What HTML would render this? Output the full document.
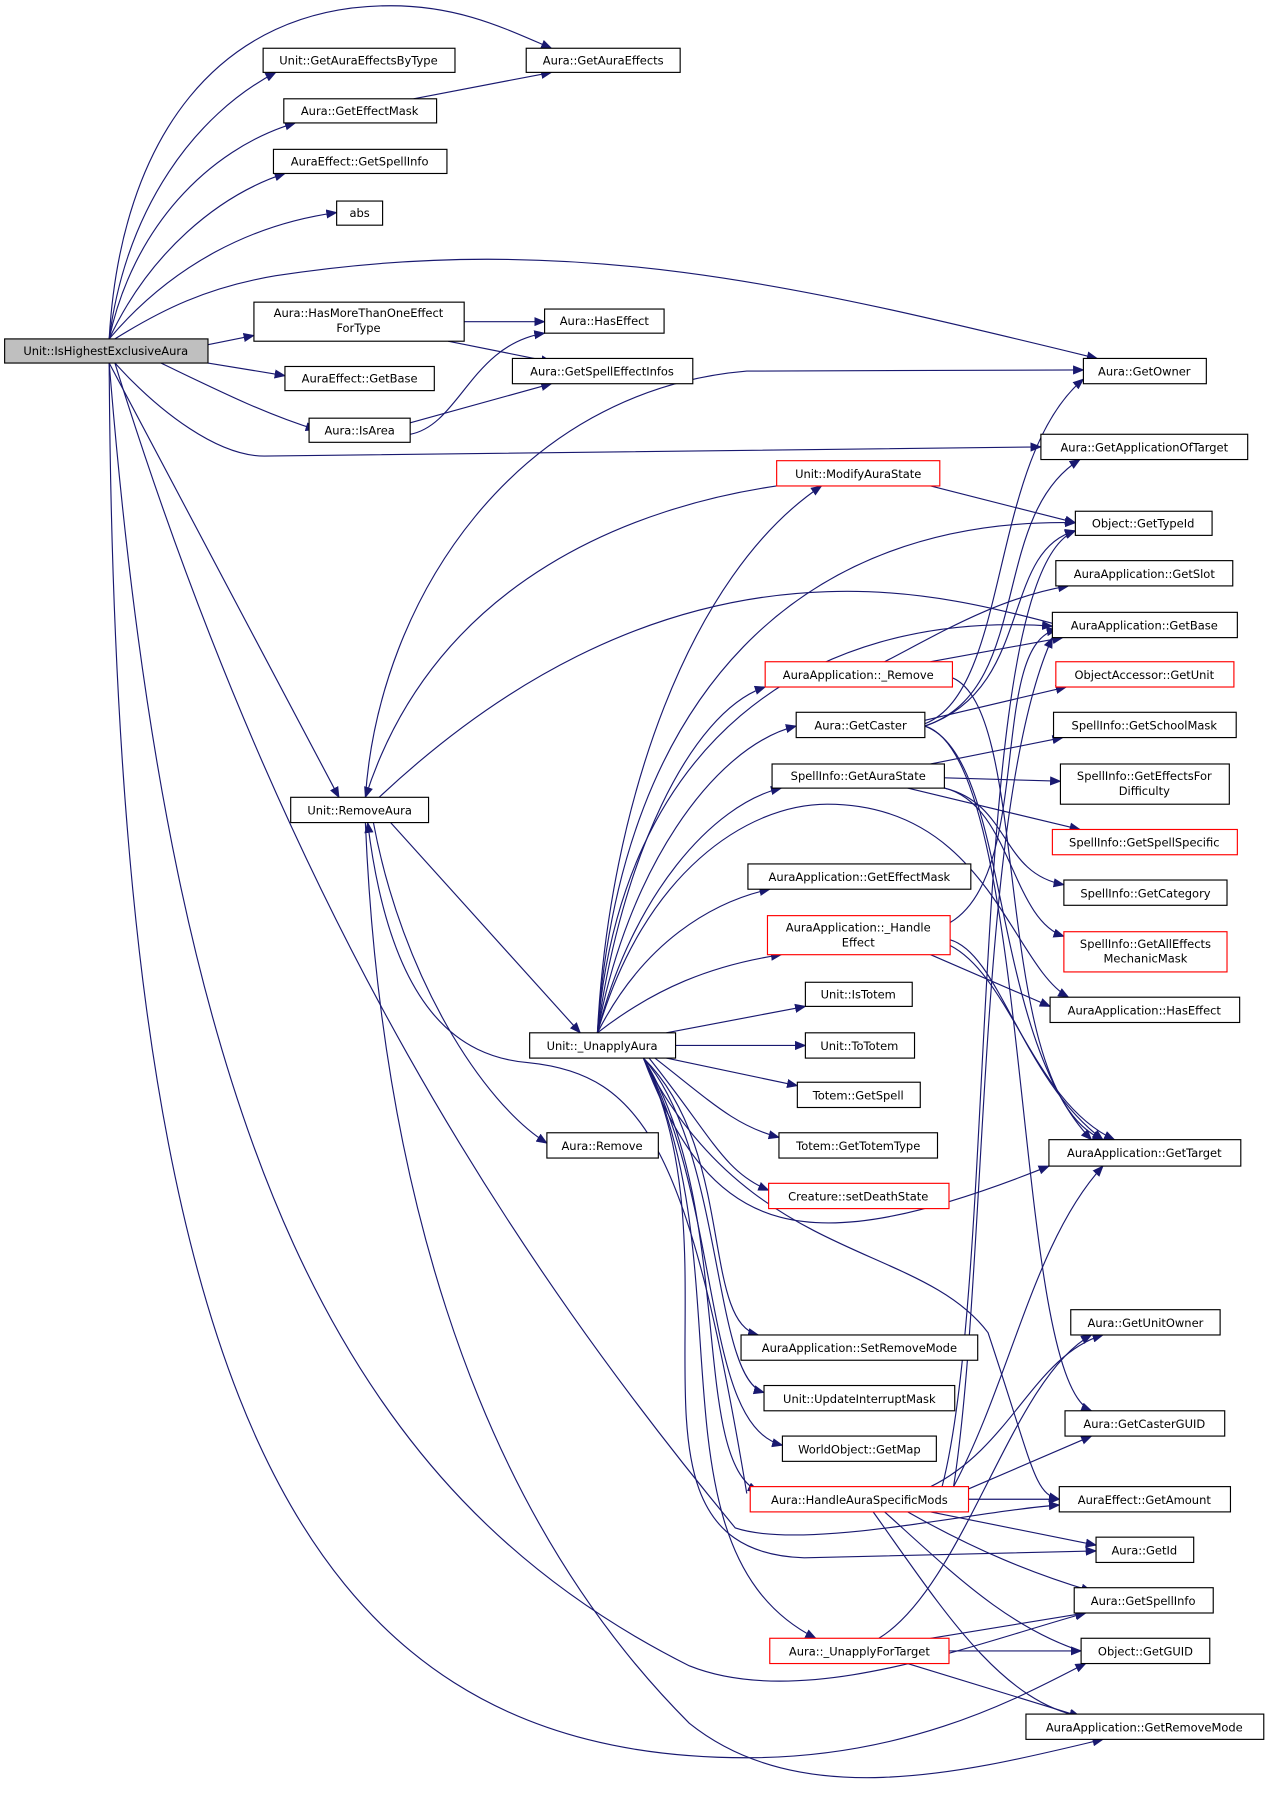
<!DOCTYPE html>
<html><head><meta charset="utf-8"><style>
html,body{margin:0;padding:0;background:#fff;}
svg{display:block;}
text{font-family:"DejaVu Sans","Liberation Sans",sans-serif;font-size:10px;fill:#000;text-anchor:middle;}
.n{fill:#fff;stroke:#000;stroke-width:1;}
.r{fill:#fff;stroke:#ff0000;stroke-width:1;}
.e{fill:none;stroke:#191970;stroke-width:1;marker-end:url(#a);}
</style></head><body>
<svg width="1273" height="1806" viewBox="0 0 1108 1572" xmlns="http://www.w3.org/2000/svg">
<defs><marker id="a" markerWidth="10" markerHeight="8" refX="9" refY="4" orient="auto" markerUnits="userSpaceOnUse"><polygon points="0,0 10,4 0,8" fill="#191970"/></marker></defs>
<g>
<path class="e" d="M95,295 C105,120 190,5 340,5 C400,5 440,25 480,42"/>
<path class="e" d="M95,295 C110,180 170,100 240,63"/>
<path class="e" d="M95,295 C115,200 180,130 257,107"/>
<path class="e" d="M95,295 C130,220 190,170 248,151"/>
<path class="e" d="M95,295 C150,230 220,195 293,185"/>
<path class="e" d="M100,295 C140,270 180,250 240,240 C500,200 700,250 955,312"/>
<path class="e" d="M181,300 L221,292"/>
<path class="e" d="M181,316 L248,327"/>
<path class="e" d="M140,316 C190,340 230,360 275,374"/>
<path class="e" d="M100,316 C140,360 190,397 230,397 L906,389"/>
<path class="e" d="M95,316 L295,694"/>
<path class="e" d="M100,316 C250,800 450,1100 640,1330 C700,1350 850,1315 922,1310"/>
<path class="e" d="M95,316 C150,1000 300,1300 600,1450 C700,1490 850,1430 945,1404"/>
<path class="e" d="M95,316 C100,1200 250,1530 650,1530 C800,1530 900,1470 945,1448"/>
<path class="e" d="M404,280 L474,280"/>
<path class="e" d="M390,297 L480,315"/>
<path class="e" d="M360,86 L480,63"/>
<path class="e" d="M357,368 L480,334"/>
<path class="e" d="M357,378 C400,370 410,300 474,290"/>
<path class="e" d="M318,694 C330,520 450,340 650,323 L943,322"/>
<path class="e" d="M676,423 C560,440 380,500 318,694"/>
<path class="e" d="M330,694 C430,600 560,520 720,515 C800,512 870,530 925,545"/>
<path class="e" d="M340,716 L505,899"/>
<path class="e" d="M325,716 C350,850 420,960 476,995"/>
<path class="e" d="M318,716 C330,1000 400,1300 600,1500 C700,1580 850,1540 960,1514"/>
<path class="e" d="M650,1300 C600,1000 560,935 460,925 C400,920 340,880 320,716"/>
<path class="e" d="M520,899 C530,700 600,500 715,423"/>
<path class="e" d="M520,899 C540,600 700,450 936,455"/>
<path class="e" d="M520,899 C540,650 700,530 916,545"/>
<path class="e" d="M520,899 C540,750 600,620 666,598"/>
<path class="e" d="M520,899 C545,760 620,650 693,632"/>
<path class="e" d="M520,899 C550,780 620,700 680,686"/>
<path class="e" d="M520,899 C560,760 650,700 720,700 C860,700 880,840 930,868"/>
<path class="e" d="M520,899 C560,820 620,785 670,774"/>
<path class="e" d="M520,899 C570,860 620,840 680,831"/>
<path class="e" d="M580,899 L701,876"/>
<path class="e" d="M588,910 L701,910"/>
<path class="e" d="M580,921 L694,945"/>
<path class="e" d="M570,921 C620,960 640,980 678,990"/>
<path class="e" d="M565,921 C620,990 630,1020 669,1036"/>
<path class="e" d="M560,921 C620,1080 700,1100 913,1015"/>
<path class="e" d="M560,921 C650,1100 800,1080 860,1160 C900,1280 900,1300 922,1305"/>
<path class="e" d="M560,921 C640,1000 610,1150 660,1162"/>
<path class="e" d="M560,921 C630,1000 620,1200 665,1212"/>
<path class="e" d="M560,921 C630,1050 610,1240 681,1258"/>
<path class="e" d="M560,921 C640,1050 600,1270 660,1298"/>
<path class="e" d="M560,921 C650,1100 560,1350 710,1426"/>
<path class="e" d="M560,921 C650,1100 520,1350 700,1356 L954,1350"/>
<path class="e" d="M805,630 C880,600 860,400 943,330"/>
<path class="e" d="M805,632 C900,600 860,450 940,400"/>
<path class="e" d="M805,627 L928,598"/>
<path class="e" d="M805,632 C900,600 870,480 936,462"/>
<path class="e" d="M805,632 C900,660 880,1200 950,1228"/>
<path class="e" d="M805,632 C880,660 860,900 950,992"/>
<path class="e" d="M770,576 C820,550 870,520 930,510"/>
<path class="e" d="M810,576 L925,555"/>
<path class="e" d="M829,590 C900,620 860,950 960,992"/>
<path class="e" d="M810,665 L925,642"/>
<path class="e" d="M822,677 L923,680"/>
<path class="e" d="M790,686 L940,722"/>
<path class="e" d="M822,686 C880,700 870,760 926,770"/>
<path class="e" d="M822,686 C880,700 880,800 926,815"/>
<path class="e" d="M810,423 L936,455"/>
<path class="e" d="M827,803 C900,760 860,560 920,548"/>
<path class="e" d="M810,831 L914,876"/>
<path class="e" d="M827,818 C870,830 890,940 960,992"/>
<path class="e" d="M827,823 C880,850 900,960 970,992"/>
<path class="e" d="M810,1294 C880,1260 900,1180 960,1162"/>
<path class="e" d="M843,1296 L950,1250"/>
<path class="e" d="M843,1305 L922,1305"/>
<path class="e" d="M810,1316 L954,1345"/>
<path class="e" d="M790,1316 C850,1350 900,1370 950,1385"/>
<path class="e" d="M770,1316 C830,1370 880,1420 950,1440"/>
<path class="e" d="M760,1316 C820,1400 870,1480 940,1494"/>
<path class="e" d="M830,1294 C880,1200 900,1080 960,1015"/>
<path class="e" d="M830,1294 C860,1100 850,700 916,555"/>
<path class="e" d="M820,1294 C870,1100 840,500 936,462"/>
<path class="e" d="M810,1426 L945,1404"/>
<path class="e" d="M826,1437 L941,1437"/>
<path class="e" d="M790,1448 L940,1494"/>
<path class="e" d="M765,1426 C840,1380 880,1200 950,1162"/>
</g>
<g>
<rect x="4" y="295" width="177" height="21" fill="#bfbfbf" stroke="#000"/><text x="92" y="309">Unit::IsHighestExclusiveAura</text>
<rect class="n" x="229" y="42" width="167" height="21"/><text x="312" y="56">Unit::GetAuraEffectsByType</text>
<rect class="n" x="458" y="42" width="134" height="21"/><text x="525" y="56">Aura::GetAuraEffects</text>
<rect class="n" x="247" y="86" width="133" height="21"/><text x="313" y="100">Aura::GetEffectMask</text>
<rect class="n" x="238" y="130" width="151" height="21"/><text x="313" y="144">AuraEffect::GetSpellInfo</text>
<rect class="n" x="293" y="175" width="40" height="21"/><text x="313" y="189">abs</text>
<rect class="n" x="221" y="263" width="183" height="34"/><text x="312" y="276">Aura::HasMoreThanOneEffect</text><text x="312" y="289">ForType</text>
<rect class="n" x="474" y="269" width="104" height="21"/><text x="526" y="283">Aura::HasEffect</text>
<rect class="n" x="446" y="312" width="157" height="22"/><text x="524" y="327">Aura::GetSpellEffectInfos</text>
<rect class="n" x="248" y="319" width="130" height="21"/><text x="313" y="333">AuraEffect::GetBase</text>
<rect class="n" x="269" y="364" width="88" height="21"/><text x="313" y="378">Aura::IsArea</text>
<rect class="n" x="943" y="312" width="107" height="22"/><text x="996" y="327">Aura::GetOwner</text>
<rect class="n" x="906" y="378" width="180" height="22"/><text x="996" y="393">Aura::GetApplicationOfTarget</text>
<rect class="r" x="676" y="401" width="142" height="22"/><text x="747" y="416">Unit::ModifyAuraState</text>
<rect class="n" x="936" y="445" width="119" height="21"/><text x="995" y="459">Object::GetTypeId</text>
<rect class="n" x="919" y="488" width="154" height="22"/><text x="996" y="503">AuraApplication::GetSlot</text>
<rect class="n" x="916" y="533" width="161" height="22"/><text x="996" y="548">AuraApplication::GetBase</text>
<rect class="r" x="666" y="576" width="163" height="22"/><text x="747" y="591">AuraApplication::_Remove</text>
<rect class="r" x="919" y="576" width="155" height="22"/><text x="996" y="591">ObjectAccessor::GetUnit</text>
<rect class="n" x="693" y="620" width="112" height="22"/><text x="749" y="635">Aura::GetCaster</text>
<rect class="n" x="917" y="620" width="159" height="22"/><text x="996" y="635">SpellInfo::GetSchoolMask</text>
<rect class="n" x="672" y="665" width="150" height="21"/><text x="747" y="679">SpellInfo::GetAuraState</text>
<rect class="n" x="923" y="665" width="147" height="35"/><text x="996" y="679">SpellInfo::GetEffectsFor</text><text x="996" y="692">Difficulty</text>
<rect class="r" x="916" y="722" width="161" height="22"/><text x="996" y="737">SpellInfo::GetSpellSpecific</text>
<rect class="n" x="253" y="694" width="120" height="22"/><text x="313" y="709">Unit::RemoveAura</text>
<rect class="n" x="651" y="752" width="194" height="22"/><text x="748" y="767">AuraApplication::GetEffectMask</text>
<rect class="n" x="926" y="766" width="142" height="22"/><text x="997" y="781">SpellInfo::GetCategory</text>
<rect class="r" x="668" y="797" width="159" height="34"/><text x="747" y="811">AuraApplication::_Handle</text><text x="747" y="824">Effect</text>
<rect class="r" x="926" y="811" width="142" height="35"/><text x="997" y="825">SpellInfo::GetAllEffects</text><text x="997" y="838">MechanicMask</text>
<rect class="n" x="701" y="855" width="93" height="21"/><text x="747" y="869">Unit::IsTotem</text>
<rect class="n" x="914" y="868" width="165" height="22"/><text x="996" y="883">AuraApplication::HasEffect</text>
<rect class="n" x="461" y="899" width="127" height="22"/><text x="524" y="914">Unit::_UnapplyAura</text>
<rect class="n" x="701" y="899" width="95" height="22"/><text x="748" y="914">Unit::ToTotem</text>
<rect class="n" x="694" y="942" width="107" height="22"/><text x="747" y="957">Totem::GetSpell</text>
<rect class="n" x="476" y="986" width="97" height="22"/><text x="524" y="1001">Aura::Remove</text>
<rect class="n" x="678" y="986" width="138" height="22"/><text x="747" y="1001">Totem::GetTotemType</text>
<rect class="n" x="913" y="992" width="167" height="23"/><text x="996" y="1007">AuraApplication::GetTarget</text>
<rect class="r" x="669" y="1030" width="157" height="22"/><text x="747" y="1045">Creature::setDeathState</text>
<rect class="n" x="932" y="1140" width="130" height="22"/><text x="997" y="1155">Aura::GetUnitOwner</text>
<rect class="n" x="645" y="1162" width="206" height="22"/><text x="748" y="1177">AuraApplication::SetRemoveMode</text>
<rect class="n" x="665" y="1206" width="166" height="22"/><text x="748" y="1221">Unit::UpdateInterruptMask</text>
<rect class="n" x="927" y="1228" width="139" height="22"/><text x="996" y="1243">Aura::GetCasterGUID</text>
<rect class="n" x="681" y="1250" width="134" height="22"/><text x="748" y="1265">WorldObject::GetMap</text>
<rect class="r" x="653" y="1294" width="190" height="22"/><text x="748" y="1309">Aura::HandleAuraSpecificMods</text>
<rect class="n" x="922" y="1294" width="149" height="22"/><text x="996" y="1309">AuraEffect::GetAmount</text>
<rect class="n" x="954" y="1338" width="85" height="22"/><text x="996" y="1353">Aura::GetId</text>
<rect class="n" x="935" y="1382" width="121" height="22"/><text x="995" y="1397">Aura::GetSpellInfo</text>
<rect class="r" x="670" y="1426" width="156" height="22"/><text x="748" y="1441">Aura::_UnapplyForTarget</text>
<rect class="n" x="941" y="1426" width="112" height="22"/><text x="997" y="1441">Object::GetGUID</text>
<rect class="n" x="893" y="1492" width="207" height="22"/><text x="996" y="1507">AuraApplication::GetRemoveMode</text>
</g>
</svg>
</body></html>
